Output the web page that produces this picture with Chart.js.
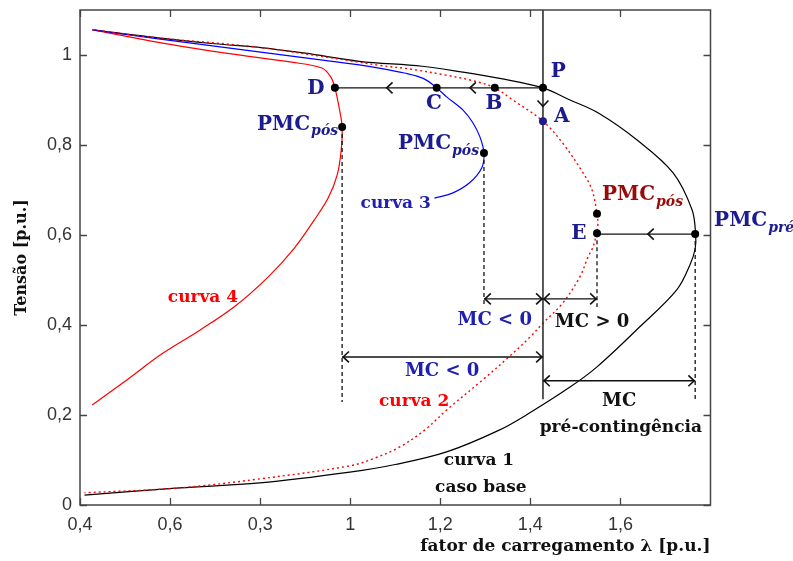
<!DOCTYPE html>
<html>
<head>
<meta charset="utf-8">
<script src="https://cdn.jsdelivr.net/npm/chart.js@4/dist/chart.umd.min.js"></script>
<style>
  html, body { margin: 0; padding: 0; background: #ffffff; }
  #wrap { width: 793px; height: 561px; }
</style>
</head>
<body>
<div id="wrap"><canvas id="pv" width="793" height="561"></canvas></div>
<script>
// Axis ticks
const xTickValues = [0.4, 0.6, 0.8, 1.0, 1.2, 1.4, 1.6];
const xTickLabels = ['0,4', '0,6', '0,3', '1', '1,2', '1,4', '1,6'];
const yTickValues = [0, 0.2, 0.4, 0.6, 0.8, 1.0];
const yTickLabels = ['0', '0,2', '0,4', '0,6', '0,8', '1'];

// curva 1 - caso base (loading factor, voltage)
const curva1Lambda = [0.428, 0.574, 0.70, 0.797, 0.90, 1.02, 1.16, 1.25, 1.332, 1.428, 1.488, 1.551, 1.637, 1.717, 1.759, 1.767, 1.766, 1.755, 1.725, 1.643, 1.548, 1.488, 1.399, 1.332, 1.214, 1.10, 0.999, 0.799, 0.621, 0.41];
const curva1Tensao = [1.056, 1.038, 1.025, 1.017, 1.004, 0.986, 0.975, 0.962, 0.948, 0.927, 0.900, 0.871, 0.811, 0.738, 0.656, 0.602, 0.570, 0.535, 0.478, 0.396, 0.307, 0.262, 0.205, 0.167, 0.118, 0.090, 0.073, 0.049, 0.038, 0.022];

// curva 2 - post-contingency (dotted)
const curva2Lambda = [0.428, 0.574, 0.797, 1.02, 1.064, 1.138, 1.214, 1.272, 1.321, 1.361, 1.428, 1.472, 1.517, 1.537, 1.548, 1.550, 1.547, 1.539, 1.528, 1.51, 1.472, 1.428, 1.399, 1.35, 1.294, 1.214, 1.166, 1.11, 1.054, 0.999, 0.799, 0.621, 0.41];
const curva2Tensao = [1.056, 1.038, 1.017, 0.984, 0.977, 0.968, 0.955, 0.943, 0.927, 0.900, 0.853, 0.804, 0.738, 0.700, 0.647, 0.625, 0.604, 0.573, 0.551, 0.507, 0.449, 0.404, 0.373, 0.327, 0.278, 0.211, 0.167, 0.129, 0.104, 0.087, 0.058, 0.038, 0.027];

// curva 3
const curva3Lambda = [0.428, 0.574, 0.797, 1.02, 1.064, 1.12, 1.162, 1.192, 1.214, 1.25, 1.272, 1.288, 1.297, 1.292, 1.265, 1.227, 1.187];
const curva3Tensao = [1.056, 1.036, 1.007, 0.978, 0.971, 0.960, 0.948, 0.927, 0.907, 0.878, 0.850, 0.818, 0.782, 0.749, 0.716, 0.693, 0.682];

// curva 4
const curva4Lambda = [0.428, 0.574, 0.723, 0.87, 0.937, 0.957, 0.966, 0.976, 0.982, 0.980, 0.971, 0.951, 0.920, 0.876, 0.818, 0.747, 0.667, 0.582, 0.504, 0.427];
const curva4Tensao = [1.056, 1.028, 1.004, 0.984, 0.971, 0.951, 0.927, 0.88, 0.84, 0.789, 0.733, 0.682, 0.633, 0.571, 0.507, 0.444, 0.389, 0.336, 0.278, 0.222];

// Operating points: P, B, C, D, PMC pós (curvas 4, 3, 2), E, PMC pré
const pontosLambda = [1.428, 1.321, 1.192, 0.966, 0.982, 1.297, 1.548, 1.548, 1.766];
const pontosTensao = [0.927, 0.927, 0.927, 0.927, 0.84, 0.782, 0.647, 0.604, 0.602];
const pontoALambda = [1.428];
const pontoATensao = [0.853];

// Vertical line through P
const linhaPLambda = [1.428, 1.428];
const linhaPTensao = [1.1, 0.235];

// Dashed drops from the maximum loading points
const quedaLambda = [0.982, 1.297, 1.548, 1.766];
const quedaTopo = [0.84, 0.782, 0.604, 0.602];
const quedaBase = [0.229, 0.44, 0.44, 0.229];

// Margin arrows: [from λ, to λ, at voltage]
const margemInicio = [1.297, 1.428, 0.982, 1.428];
const margemFim = [1.428, 1.548, 1.428, 1.766];
const margemTensao = [0.458, 0.458, 0.329, 0.276];

// Horizontal transfers P→D and PMC pré→E
const transfInicio = [1.428, 1.766];
const transfFim = [0.966, 1.548];
const transfTensao = [0.927, 0.602];
const transfSetas = [[1.266, 1.081], [1.661]];

const NAVY = '#1c1c8e';
const BLUE = '#2020b0';
const RED = '#ff0000';
const DARKRED = '#9a0a0a';
const SERIF = '"DejaVu Serif", serif';

const rotulos = [
  { text: 'P', x: 1.462, y: 0.962, color: NAVY, size: 20 },
  { text: 'A', x: 1.470, y: 0.862, color: NAVY, size: 20 },
  { text: 'B', x: 1.319, y: 0.891, color: NAVY, size: 20 },
  { text: 'C', x: 1.186, y: 0.891, color: NAVY, size: 20 },
  { text: 'D', x: 0.924, y: 0.926, color: NAVY, size: 20 },
  { text: 'E', x: 1.508, y: 0.602, color: NAVY, size: 20 },
  { text: 'PMC', sub: 'pós', x: 0.793, y: 0.846, color: NAVY, size: 20, align: 'left' },
  { text: 'PMC', sub: 'pós', x: 1.106, y: 0.802, color: NAVY, size: 20, align: 'left' },
  { text: 'PMC', sub: 'pós', x: 1.559, y: 0.689, color: DARKRED, size: 20, align: 'left' },
  { text: 'PMC', sub: 'pré', x: 1.808, y: 0.631, color: NAVY, size: 20, align: 'left' },
  { text: 'curva 3', x: 1.101, y: 0.669, color: BLUE, size: 17 },
  { text: 'curva 4', x: 0.673, y: 0.462, color: RED, size: 17 },
  { text: 'curva 2', x: 1.142, y: 0.229, color: RED, size: 17 },
  { text: 'curva 1', x: 1.286, y: 0.098, color: '#111111', size: 17 },
  { text: 'caso base', x: 1.290, y: 0.038, color: '#111111', size: 17 },
  { text: 'MC', x: 1.597, y: 0.231, color: '#111111', size: 18 },
  { text: 'pré-contingência', x: 1.601, y: 0.173, color: '#111111', size: 17 },
  { text: 'MC > 0', x: 1.537, y: 0.407, color: '#111111', size: 18 },
  { text: 'MC < 0', x: 1.321, y: 0.411, color: BLUE, size: 18 },
  { text: 'MC < 0', x: 1.204, y: 0.296, color: BLUE, size: 18 }
];

function pts(xs, ys) { return xs.map((x, i) => ({ x: x, y: ys[i] })); }
function linha(xs, ys, style) {
  return Object.assign({ data: pts(xs, ys), showLine: true, pointRadius: 0, fill: false, tension: 0 }, style);
}

const datasets = [
  linha(curva1Lambda, curva1Tensao, { borderColor: '#000000', borderWidth: 1.2, tension: 0.35, order: 5 }),
  linha(curva2Lambda, curva2Tensao, { borderColor: RED, borderWidth: 1.4, borderDash: [2, 3], tension: 0.35, order: 4 }),
  linha(curva3Lambda, curva3Tensao, { borderColor: '#0000ff', borderWidth: 1.2, tension: 0.35, order: 4 }),
  linha(curva4Lambda, curva4Tensao, { borderColor: RED, borderWidth: 1.2, tension: 0.35, order: 4 }),
  linha(linhaPLambda, linhaPTensao, { borderColor: '#222222', borderWidth: 1.5, order: 3 })
];
quedaLambda.forEach((x, i) => {
  datasets.push(linha([x, x], [quedaTopo[i], quedaBase[i]], { borderColor: '#111111', borderWidth: 1.3, borderDash: [4, 3], order: 3 }));
});
margemInicio.forEach((x, i) => {
  datasets.push(linha([x, margemFim[i]], [margemTensao[i], margemTensao[i]], { borderColor: '#111111', borderWidth: 1.4, order: 3 }));
});
transfInicio.forEach((x, i) => {
  datasets.push(linha([x, transfFim[i]], [transfTensao[i], transfTensao[i]], { borderColor: '#111111', borderWidth: 1.4, order: 3 }));
});
datasets.push({ data: pts(pontosLambda, pontosTensao), showLine: false, pointRadius: 4, pointBackgroundColor: '#000000', pointBorderWidth: 0, order: 0 });
datasets.push({ data: pts(pontoALambda, pontoATensao), showLine: false, pointRadius: 4, pointBackgroundColor: '#1c1c8e', pointBorderWidth: 0, order: 0 });

function chevron(ctx, x, y, ang) {
  const len = 8, spread = 0.75;
  ctx.beginPath();
  ctx.moveTo(x - len * Math.cos(ang - spread), y - len * Math.sin(ang - spread));
  ctx.lineTo(x, y);
  ctx.lineTo(x - len * Math.cos(ang + spread), y - len * Math.sin(ang + spread));
  ctx.stroke();
}

const extras = {
  id: 'extras',
  afterDatasetsDraw(chart) {
    const ctx = chart.ctx, xs = chart.scales.x, ys = chart.scales.y, a = chart.chartArea;
    ctx.save();
    // frame and inward ticks
    ctx.strokeStyle = '#444444';
    ctx.lineWidth = 1.5;
    ctx.strokeRect(a.left, a.top, a.right - a.left, a.bottom - a.top);
    ctx.lineWidth = 1.3;
    ctx.beginPath();
    xTickValues.forEach(v => {
      const px = Math.round(xs.getPixelForValue(v)) + 0.5;
      ctx.moveTo(px, a.bottom); ctx.lineTo(px, a.bottom - 7);
      ctx.moveTo(px, a.top); ctx.lineTo(px, a.top + 7);
    });
    yTickValues.forEach(v => {
      const py = Math.round(ys.getPixelForValue(v)) + 0.5;
      ctx.moveTo(a.left, py); ctx.lineTo(a.left + 7, py);
      ctx.moveTo(a.right, py); ctx.lineTo(a.right - 7, py);
    });
    ctx.stroke();

    // arrowheads
    ctx.strokeStyle = '#111111';
    ctx.lineWidth = 1.6;
    transfSetas.forEach((set, i) => {
      const py = ys.getPixelForValue(transfTensao[i]);
      set.forEach(v => chevron(ctx, xs.getPixelForValue(v), py, Math.PI));
    });
    chevron(ctx, xs.getPixelForValue(linhaPLambda[0]), ys.getPixelForValue(0.886), Math.PI / 2);
    margemInicio.forEach((v, i) => {
      const py = ys.getPixelForValue(margemTensao[i]);
      const p0 = xs.getPixelForValue(v), p1 = xs.getPixelForValue(margemFim[i]);
      chevron(ctx, p0 + 1, py, Math.PI);
      chevron(ctx, p1 - 1, py, 0);
    });

    // labels
    rotulos.forEach(r => {
      const px = xs.getPixelForValue(r.x), py = ys.getPixelForValue(r.y);
      ctx.fillStyle = r.color;
      ctx.textBaseline = 'middle';
      ctx.font = 'bold ' + r.size + 'px ' + SERIF;
      if (r.sub) {
        ctx.textAlign = 'left';
        ctx.fillText(r.text, px, py);
        const w = ctx.measureText(r.text).width;
        ctx.font = 'italic bold 14px ' + SERIF;
        ctx.fillText(r.sub, px + w + 1, py + 7);
      } else {
        ctx.textAlign = 'center';
        ctx.fillText(r.text, px, py);
      }
    });
    ctx.restore();
  }
};

new Chart(document.getElementById('pv'), {
  type: 'scatter',
  data: { datasets: datasets },
  options: {
    responsive: false,
    animation: false,
    devicePixelRatio: 1,
    layout: { padding: { left: 0, right: 82.5, top: 10, bottom: 0 } },
    plugins: { legend: { display: false }, tooltip: { enabled: false } },
    scales: {
      x: {
        type: 'linear', min: 0.4, max: 1.8,
        afterBuildTicks: s => { s.ticks = xTickValues.map(v => ({ value: v })); },
        afterFit: s => { s.height = 56; s.paddingLeft = 0; s.paddingRight = 0; },
        grid: { display: false, drawTicks: false },
        border: { display: false },
        ticks: {
          padding: 9, color: '#333333', maxRotation: 0, autoSkip: false,
          font: { family: '"Liberation Sans", Arial, sans-serif', size: 18 },
          callback: (v, i) => xTickLabels[i]
        },
        title: {
          display: true, text: 'fator de carregamento λ [p.u.]', align: 'end',
          color: '#111111', padding: { top: 0, bottom: 4 },
          font: { family: SERIF, size: 17, weight: 'bold' }
        }
      },
      y: {
        type: 'linear', min: 0, max: 1.1,
        afterBuildTicks: s => { s.ticks = yTickValues.map(v => ({ value: v })); },
        afterFit: s => { s.width = 80; s.paddingTop = 0; s.paddingBottom = 0; },
        grid: { display: false, drawTicks: false },
        border: { display: false },
        ticks: {
          padding: 8, color: '#333333', autoSkip: false,
          font: { family: '"Liberation Sans", Arial, sans-serif', size: 18 },
          callback: (v, i) => yTickLabels[i]
        },
        title: {
          display: true, text: 'Tensão [p.u.]', color: '#111111',
          padding: { top: 12, bottom: 0 },
          font: { family: SERIF, size: 16, weight: 'bold' }
        }
      }
    }
  },
  plugins: [extras]
});
</script>
</body>
</html>
